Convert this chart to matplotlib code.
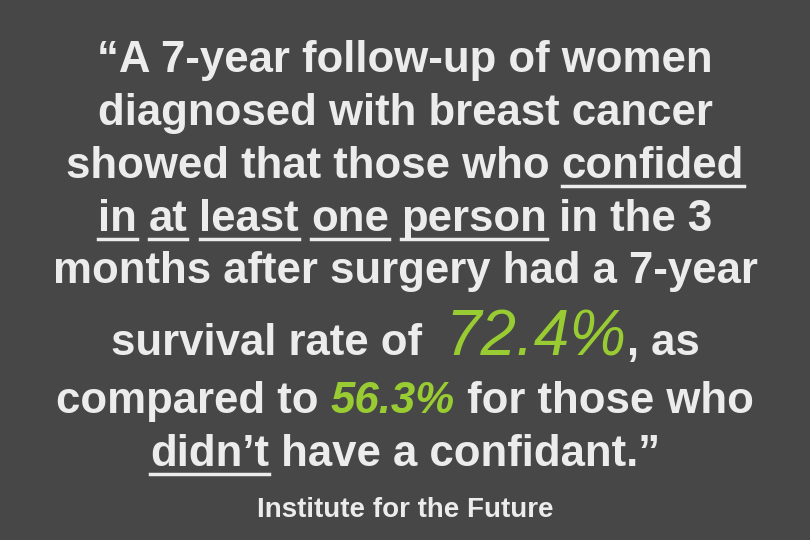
import matplotlib
matplotlib.use("Agg")
import matplotlib.pyplot as plt

confided_rate = 72.4
no_confidant_rate = 56.3
source = "Institute for the Future"

BG = "#474747"; FG = "#ececec"; GREEN = "#99cc33"
FAM = ["Liberation Sans", "DejaVu Sans"]
S = 31.5

lines = [
    (72, [("\u201cA 7-year follow-up of women", {}, False)]),
    (125, [("diagnosed with breast cancer", {}, False)]),
    (178, [("showed that those who ", {}, False), ("confided", {}, True)]),
    (231, [("in", {}, True), (" ", {}, False), ("at", {}, True), (" ", {}, False), ("least", {}, True),
           (" ", {}, False), ("one", {}, True), (" ", {}, False), ("person", {}, True), (" in the 3", {}, False)]),
    (283, [("months after surgery had a 7-year", {}, False)]),
    (355, [("survival rate of  ", {}, False),
           (f"{confided_rate}%", dict(color=GREEN, fontsize=46, fontweight="normal", fontstyle="italic"), False),
           (", as", {}, False)]),
    (413, [("compared to ", {}, False), (f"{no_confidant_rate}%", dict(color=GREEN, fontstyle="italic"), False),
           (" for those who", {}, False)]),
    (466, [("didn\u2019t", {}, True), (" have a confidant.\u201d", {}, False)]),
    (517, [(source, dict(fontsize=20), False)]),
]

fig = plt.figure(figsize=(8.1, 5.4), dpi=100)
fig.patch.set_facecolor(BG)
W, H = 810, 540
r = fig.canvas.get_renderer()

for base, segs in lines:
    texts = []
    for s, kw, ul in segs:
        p = dict(color=FG, fontsize=S, fontweight="bold", family=FAM)
        p.update(kw)
        t = fig.text(0, 1 - base / H, s, va="baseline", ha="left", **p)
        texts.append((t, ul, p))
    widths = [t.get_window_extent(r).width for t, _, _ in texts]
    x = (W - sum(widths)) / 2
    for (t, ul, p), w in zip(texts, widths):
        t.set_x(x / W)
        if ul:
            y = 1 - (base + 8) / H
            fig.add_artist(plt.Line2D([x / W, (x + w) / W], [y, y], color=FG, lw=2.5,
                                      transform=fig.transFigure))
        x += w

fig.savefig("out.png", dpi=100, facecolor=BG)
